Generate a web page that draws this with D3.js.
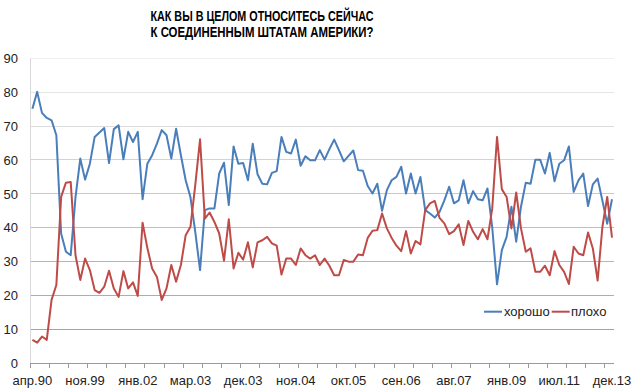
<!DOCTYPE html>
<html><head><meta charset="utf-8">
<script src="https://cdn.jsdelivr.net/npm/d3@7"></script>
<style>
html,body{margin:0;padding:0;background:#fff;}
svg{display:block;}
</style>
</head><body>
<svg id="chart" width="640" height="391"></svg>
<script>
const titleLines = ["КАК ВЫ В ЦЕЛОМ ОТНОСИТЕСЬ СЕЙЧАС", "К СОЕДИНЕННЫМ ШТАТАМ АМЕРИКИ?"];
const seriesNames = ["хорошо", "плохо"];
const tickLabels = ["апр.90","ноя.99","янв.02","мар.03","дек.03","ноя.04","окт.05","сен.06","авг.07","янв.09","июл.11","дек.13"];
const yTicks = [0,10,20,30,40,50,60,70,80,90];
const good = [75.1,80.1,73.9,72.4,71.7,67.3,38.3,32.9,31.9,49,
60.4,54.2,58.9,66.8,68.1,69.4,59.1,69.1,70.2,60.2,
68.3,65.3,68.3,48.4,58.9,61.4,64.8,68.8,67.3,60.4,
69.2,61.4,54,49,38.8,27.5,45.2,45.7,45.7,56.0,
59.2,46.7,64.0,58.9,59.1,54.0,64.8,55.8,53.0,52.8,
56.2,56.7,66.8,62.4,61.9,66.0,58.3,61.1,59.9,59.9,
62.9,60.1,63.2,66.0,62.9,59.6,61.2,62.8,57.0,56.8,
52.3,50.1,53.0,45.0,51.1,54.0,55.0,58.0,50.1,56.0,
50.1,55.0,45.2,44.2,43.0,44.7,48.1,52.1,47.2,48.1,
54.0,47.2,50.8,48.4,48.1,51.6,40,23.3,33.4,37.3,
46.2,35.9,46.2,53.3,53.0,60.1,60.1,56.0,62.1,53.7,
58.9,59.9,64.0,50.6,54.0,56.0,46.4,52.8,54.5,48,
41.2,48.4];
const bad = [6.9,6.1,7.9,6.9,18.7,23.1,49.1,53.3,53.5,31.9,
24.6,30.9,27.5,21.6,20.8,22.6,27.3,22.1,19.6,27.2,
22.1,23.9,19.9,41.5,34,28,25.5,18.7,22.1,29.0,
24.1,29.0,37.8,40.3,52.6,66.1,42.7,44.5,41.7,38.3,
30.3,42.5,28.0,32.6,30.6,35.7,28.3,35.7,36.3,37.3,
35.4,34.7,26.2,30.9,30.9,29.0,33.9,31.9,30.9,31.9,
29.0,30.9,28.8,26.0,26.0,30.5,30.0,30.0,32.1,31.9,
37.0,39.1,39.3,44.2,39.8,37.0,34.7,33.1,39.0,32.4,
36.1,35.1,45.2,47.2,47.9,42.9,41.3,38.1,39.0,41.0,
34.9,42.0,38.8,36.6,39.6,36.6,45.7,66.8,51.4,49.1,
39.8,50.4,39.8,32.9,33.9,27.0,27.0,28.8,26.0,33.1,
29.0,27.0,23.4,34.4,32.4,31.9,38.6,33.9,24.4,40.3,
49.1,37.1];
const colors = ["#4A7EBB", "#BE4B48"];
const labelEvery = 11, tickEvery = 4;

const svg = d3.select("#chart");
const L = 30, R = 614.4, T = 58.3, B = 363.3;
const idx = d3.range(good.length);
const x = d3.scaleBand().domain(idx).range([L, R]).padding(0);
const y = d3.scaleLinear().domain([0, 90]).range([B, T]);
const cx = i => x(i) + x.bandwidth() / 2;
const font = "'Liberation Sans', Arial, sans-serif";

// gridlines
const gridCol = d3.scaleLinear().domain([0, 90]).range(["#9a9a9a", "#efefef"]);
svg.append("g").selectAll("line").data(yTicks.filter(v => v > 0)).join("line")
  .attr("x1", L).attr("x2", R).attr("y1", d => y(d)).attr("y2", d => y(d))
  .attr("stroke", d => gridCol(d)).attr("stroke-width", 1).attr("shape-rendering", "crispEdges");
// y axis line
svg.append("line").attr("x1", L).attr("x2", L).attr("y1", T).attr("y2", B)
  .attr("stroke", "#d9d9d9").attr("shape-rendering", "crispEdges");
// x axis line
svg.append("line").attr("x1", L).attr("x2", R).attr("y1", y(0)).attr("y2", y(0))
  .attr("stroke", "#9a9a9a").attr("shape-rendering", "crispEdges");
// x ticks
const tickIdx = d3.range(0, good.length, tickEvery);
svg.append("g").selectAll("line").data(tickIdx).join("line")
  .attr("x1", d => x(d)).attr("x2", d => x(d)).attr("y1", B).attr("y2", B + 5)
  .attr("stroke", "#9a9a9a").attr("shape-rendering", "crispEdges");
// y labels
svg.append("g").selectAll("text").data(yTicks).join("text")
  .attr("x", 18).attr("y", d => y(d)).attr("dy", "0.36em")
  .attr("text-anchor", "end").attr("font-family", font).attr("font-size", 13).attr("fill", "#222")
  .text(d => d);
// x labels
svg.append("g").selectAll("text").data(tickLabels).join("text")
  .attr("x", (d, k) => cx(k * labelEvery)).attr("y", 385)
  .attr("text-anchor", "middle").attr("font-family", font).attr("font-size", 13).attr("fill", "#222")
  .text(d => d);

// lines
const line = d3.line().x((d, i) => cx(i)).y(d => y(d));
[good, bad].forEach((s, k) => {
  svg.append("path").datum(s).attr("d", line).attr("fill", "none")
    .attr("stroke", colors[k]).attr("stroke-width", 2).attr("stroke-linejoin", "round");
});

// title
svg.append("g").selectAll("text").data(titleLines).join("text")
  .attr("x", 262).attr("y", (d, i) => 21 + i * 16)
  .attr("text-anchor", "middle").attr("font-family", "'Liberation Sans Narrow', 'Arial Narrow', 'Liberation Sans', sans-serif")
  .attr("font-weight", "bold").attr("font-size", 14.5).attr("fill", "#000")
  .attr("textLength", 223).attr("lengthAdjust", "spacingAndGlyphs")
  .text(d => d);

// legend
const leg = [{x: 484, tx: 504}, {x: 551.7, tx: 571}];
seriesNames.forEach((n, k) => {
  svg.append("line").attr("x1", leg[k].x).attr("x2", leg[k].x + 18).attr("y1", 311.7).attr("y2", 311.7)
    .attr("stroke", colors[k]).attr("stroke-width", 2);
  svg.append("text").attr("x", leg[k].tx).attr("y", 311.7).attr("dy", "0.36em")
    .attr("font-family", font).attr("font-size", 13).attr("fill", "#222").text(n);
});
</script>
</body></html>
